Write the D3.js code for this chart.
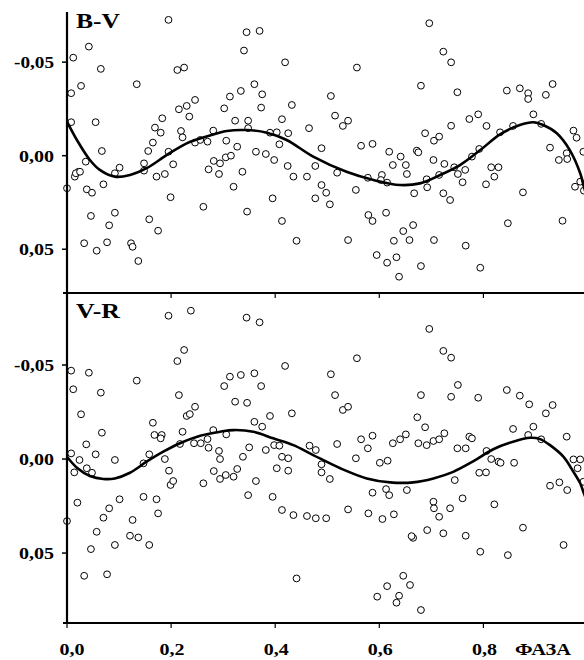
<!DOCTYPE html>
<html>
<head>
<meta charset="UTF-8">
<script src="https://d3js.org/d3.v7.min.js"></script>
<style>
  body { margin: 0; background: #fff; }
  svg text { font-family: "Liberation Serif", "Times New Roman", serif; font-weight: bold; fill: #000; }
</style>
</head>
<body>
<div id="chart"></div>
<script>
// phase, value  (B-V panel)
const bvPoints = [
  [0.000,0.0174],[0.008,-0.0334],[0.012,-0.0524],[0.008,-0.0179],[0.015,0.0112],[0.022,0.0086],[0.017,0.0094],[0.025,0.0086],
  [0.027,-0.0373],[0.033,0.0468],[0.036,0.0032],[0.038,0.0180],[0.042,-0.0583],[0.048,0.0198],[0.046,0.0322],[0.055,-0.0179],
  [0.057,0.0508],[0.065,-0.0464],[0.067,-0.0025],[0.070,0.0153],[0.077,0.0463],[0.081,0.0372],[0.092,0.0305],[0.092,0.0094],
  [0.101,0.0064],[0.123,0.0468],[0.126,0.0487],[0.134,-0.0382],[0.137,0.0563],[0.148,0.0041],[0.148,0.0080],[0.156,-0.0025],
  [0.158,0.0340],[0.165,-0.0070],[0.169,-0.0150],[0.172,0.0112],[0.175,0.0401],[0.180,-0.0123],[0.183,-0.0200],[0.188,0.0098],
  [0.195,-0.0726],[0.195,-0.0021],[0.199,0.0222],[0.204,0.0046],[0.212,-0.0458],[0.215,-0.0248],[0.219,-0.0132],[0.222,-0.0098],
  [0.225,-0.0471],[0.230,-0.0266],[0.235,-0.0209],[0.246,-0.0298],[0.246,-0.0070],[0.256,-0.0084],[0.262,0.0273],[0.270,-0.0075],
  [0.272,0.0073],[0.281,-0.0134],[0.282,0.0028],[0.292,0.0098],[0.294,0.0041],[0.302,-0.0253],[0.306,-0.0080],[0.305,0.0009],
  [0.313,-0.0316],[0.315,0.0000],[0.320,0.0166],[0.323,-0.0187],[0.327,-0.0048],[0.337,0.0086],[0.340,-0.0562],[0.334,-0.0346],
  [0.345,-0.0660],[0.346,0.0299],[0.348,-0.0187],[0.348,-0.0147],[0.360,-0.0382],[0.363,-0.0021],[0.370,-0.0667],[0.373,-0.0257],
  [0.375,-0.0328],[0.382,-0.0009],[0.390,-0.0123],[0.395,0.0228],[0.398,0.0023],[0.403,-0.0125],[0.408,-0.0061],[0.413,-0.0195],
  [0.413,0.0349],[0.419,-0.0499],[0.424,0.0055],[0.425,-0.0120],[0.432,-0.0271],[0.435,0.0112],[0.441,0.0455],
  [0.461,0.0112],[0.465,-0.0147],[0.477,0.0055],[0.477,0.0228],[0.489,-0.0040],[0.489,0.0157],[0.498,0.0198],[0.505,0.0260],
  [0.507,-0.0319],[0.515,-0.0214],[0.519,0.0091],[0.530,-0.0159],[0.540,-0.0187],[0.540,0.0451],[0.555,0.0183],[0.557,-0.0471],
  [0.565,-0.0053],[0.578,0.0118],[0.579,0.0317],[0.587,-0.0063],[0.587,0.0349],[0.595,0.0531],[0.605,0.0103],[0.603,0.0130],
  [0.613,0.0305],[0.615,0.0572],[0.615,0.0144],[0.619,-0.0021],[0.626,0.0050],[0.628,0.0455],[0.633,0.0543],[0.638,0.0647],
  [0.641,0.0005],[0.646,0.0403],[0.651,0.0050],[0.653,0.0098],[0.658,0.0451],[0.665,0.0371],[0.667,0.0201],[0.672,-0.0027],
  [0.675,-0.0018],[0.680,-0.0374],[0.680,0.0590],[0.688,-0.0120],[0.691,0.0126],[0.692,0.0169],[0.696,-0.0708],[0.705,-0.0080],
  [0.704,0.0023],[0.705,0.0451],[0.715,-0.0102],[0.715,0.0103],[0.723,-0.0556],[0.723,0.0201],[0.725,0.0044],[0.736,0.0237],
  [0.738,-0.0499],[0.738,-0.0160],[0.744,0.0062],[0.750,-0.0339],[0.751,0.0098],[0.760,0.0142],[0.765,0.0076],[0.766,0.0481],
  [0.773,-0.0196],[0.778,0.0005],[0.790,-0.0221],[0.792,-0.0036],[0.794,0.0599],[0.805,0.0153],[0.806,-0.0159],[0.815,0.0062],
  [0.821,0.0112],[0.829,0.0062],[0.832,-0.0125],[0.845,-0.0348],[0.847,0.0361],[0.857,-0.0159],[0.870,-0.0360],[0.876,0.0196],
  [0.886,-0.0334],[0.886,-0.0303],[0.896,-0.0221],[0.911,-0.0170],[0.920,-0.0325],[0.928,-0.0043],[0.933,-0.0383],[0.945,0.0023],
  [0.952,0.0348],[0.960,-0.0013],[0.961,0.0018],[0.973,-0.0134],[0.979,-0.0096],[0.976,0.0166],[0.986,0.0139],[0.992,-0.0021],
  [0.993,0.0187]
];

// fitted curve, B-V
const bvFit = [
  [0.000,-0.0182],[0.019,-0.0084],[0.044,0.0023],[0.063,0.0076],[0.092,0.0112],[0.121,0.0103],[0.153,0.0067],[0.192,-0.0004],
  [0.230,-0.0066],[0.268,-0.0102],[0.307,-0.0132],[0.345,-0.0137],[0.384,-0.0123],[0.422,-0.0084],[0.473,0.0005],[0.537,0.0086],
  [0.589,0.0130],[0.640,0.0157],[0.678,0.0148],[0.717,0.0103],[0.755,0.0050],[0.794,-0.0030],[0.832,-0.0114],[0.870,-0.0164],
  [0.896,-0.0179],[0.915,-0.0164],[0.941,-0.0120],[0.966,-0.0030],[0.986,0.0094],[0.993,0.0166],[1.000,0.0230]
];

// phase, value  (V-R panel)
const vrPoints = [
  [0.000,0.0330],[0.008,-0.0470],[0.008,-0.0030],[0.012,-0.0371],[0.014,0.0071],[0.020,0.0232],[0.024,0.0005],[0.027,-0.0238],
  [0.033,0.0621],[0.037,-0.0078],[0.038,0.0049],[0.042,-0.0459],[0.046,0.0479],[0.048,0.0073],[0.055,-0.0025],[0.057,0.0387],
  [0.065,-0.0353],[0.067,-0.0140],[0.070,0.0312],[0.077,0.0613],[0.081,0.0262],[0.092,0.0005],[0.092,0.0457],[0.101,0.0214],
  [0.126,0.0324],[0.121,0.0408],[0.134,-0.0417],[0.137,0.0417],[0.147,0.0023],[0.147,0.0201],[0.158,-0.0025],[0.158,0.0457],
  [0.165,-0.0193],[0.168,-0.0128],[0.172,0.0214],[0.175,0.0289],[0.182,-0.0128],[0.180,-0.0110],[0.188,0.0000],[0.195,-0.0762],
  [0.196,0.0062],[0.199,0.0138],[0.204,0.0117],[0.212,-0.0521],[0.215,-0.0340],[0.217,-0.0080],[0.222,-0.0145],[0.225,-0.0580],
  [0.230,-0.0229],[0.236,-0.0239],[0.238,-0.0789],[0.246,-0.0278],[0.244,-0.0084],[0.257,-0.0084],[0.262,0.0129],[0.270,-0.0106],
  [0.272,-0.0060],[0.281,-0.0154],[0.282,0.0064],[0.292,-0.0043],[0.294,0.0000],[0.294,0.0106],[0.302,-0.0388],[0.306,-0.0131],
  [0.305,0.0085],[0.313,-0.0438],[0.320,0.0094],[0.323,-0.0305],[0.327,0.0053],[0.334,-0.0447],[0.338,-0.0012],[0.345,-0.0752],
  [0.346,-0.0299],[0.348,0.0192],[0.350,-0.0062],[0.360,-0.0456],[0.360,-0.0198],[0.363,0.0117],[0.370,-0.0727],[0.373,-0.0388],
  [0.375,-0.0172],[0.382,-0.0048],[0.390,-0.0229],[0.395,0.0201],[0.398,-0.0074],[0.403,0.0049],[0.408,-0.0071],[0.413,-0.0012],
  [0.413,0.0271],[0.419,-0.0495],[0.425,-0.0004],[0.425,0.0062],[0.432,-0.0243],[0.435,0.0298],[0.441,0.0635],
  [0.461,0.0303],[0.466,-0.0071],[0.478,-0.0048],[0.478,0.0315],[0.489,0.0028],[0.489,0.0071],[0.498,0.0315],[0.505,0.0106],
  [0.507,-0.0451],[0.515,-0.0340],[0.519,-0.0080],[0.530,-0.0261],[0.540,-0.0278],[0.540,0.0268],[0.555,-0.0004],[0.557,-0.0536],
  [0.565,-0.0105],[0.578,-0.0057],[0.579,0.0289],[0.587,-0.0124],[0.587,0.0179],[0.601,0.0020],[0.606,0.0319],[0.613,0.0160],
  [0.616,0.0009],[0.619,0.0192],[0.626,-0.0084],[0.628,0.0294],[0.640,-0.0105],[0.646,0.0621],[0.651,-0.0131],[0.653,0.0165],
  [0.665,0.0419],[0.662,0.0410],[0.673,-0.0222],[0.675,-0.0084],[0.680,-0.0340],[0.688,-0.0169],[0.691,-0.0074],[0.692,0.0378],
  [0.696,-0.0692],[0.704,-0.0096],[0.704,0.0227],[0.705,0.0262],[0.715,-0.0105],[0.715,0.0307],[0.723,-0.0575],[0.723,0.0395],
  [0.725,-0.0137],[0.736,0.0262],[0.738,-0.0539],[0.738,-0.0331],[0.745,0.0112],[0.750,-0.0057],[0.751,-0.0394],[0.760,0.0209],
  [0.766,-0.0057],[0.766,0.0408],[0.773,-0.0119],[0.778,-0.0110],[0.790,-0.0326],[0.792,0.0073],[0.794,0.0493],[0.805,0.0071],
  [0.806,-0.0043],[0.815,0.0000],[0.821,0.0241],[0.829,0.0014],[0.833,0.0020],[0.845,-0.0367],[0.847,0.0511],[0.857,-0.0160],
  [0.859,0.0020],[0.870,-0.0337],[0.876,0.0365],[0.886,-0.0128],[0.888,-0.0291],[0.896,-0.0172],[0.911,-0.0105],[0.920,-0.0243],
  [0.928,0.0142],[0.933,-0.0287],[0.946,0.0124],[0.954,0.0457],[0.960,-0.0119],[0.961,0.0165],[0.973,0.0002],[0.981,0.0049],
  [0.986,0.0002],[0.992,0.0121],
  [0.659,0.0670],[0.615,0.0676],[0.596,0.0732],[0.638,0.0727],[0.633,0.0764],[0.680,0.0803]
];

// fitted curve, V-R
const vrFit = [
  [0.000,-0.0012],[0.019,0.0046],[0.044,0.0090],[0.070,0.0106],[0.092,0.0103],[0.121,0.0073],[0.153,0.0014],[0.185,-0.0039],
  [0.217,-0.0084],[0.256,-0.0124],[0.294,-0.0145],[0.320,-0.0154],[0.358,-0.0145],[0.396,-0.0110],[0.435,-0.0074],[0.473,-0.0021],
  [0.525,0.0049],[0.576,0.0103],[0.621,0.0124],[0.665,0.0124],[0.704,0.0103],[0.742,0.0068],[0.781,0.0011],[0.819,-0.0052],
  [0.857,-0.0092],[0.890,-0.0113],[0.909,-0.0106],[0.928,-0.0074],[0.954,-0.0012],[0.973,0.0068],[0.986,0.0129],[0.993,0.0182],
  [1.000,0.0230]
];

const xTicks = [0, 0.2, 0.4, 0.6, 0.8];
const xTickLabels = ["0,0", "0,2", "0,4", "0,6", "0,8"];
const yTicks = [-0.05, 0, 0.05];
const yTickLabels = ["-0,05", "0,00", "0,05"];

const W = 584, H = 660;
const svg = d3.select("#chart").append("svg").attr("width", W).attr("height", H);

const x = d3.scaleLinear().domain([0, 1]).range([67, 587.5]);
const panels = [
  { name: "B-V", pts: bvPoints, fit: bvFit, y: d3.scaleLinear().domain([-0.0768, 0.0734]).range([12, 293]), lab: 28 },
  { name: "V-R", pts: vrPoints, fit: vrFit, y: d3.scaleLinear().domain([-0.0883, 0.0872]).range([293, 623]), lab: 318 }
];

panels.forEach(p => {
  const g = svg.append("g");
  const [y0, y1] = p.y.range();

  // points
  g.selectAll("circle").data(p.pts).enter().append("circle")
    .attr("cx", d => x(d[0])).attr("cy", d => p.y(d[1]))
    .attr("r", 3.4).attr("fill", "#fff").attr("stroke", "#000").attr("stroke-width", 1);

  // fitted curve
  const line = d3.line().x(d => x(d[0])).y(d => p.y(d[1])).curve(d3.curveCatmullRom.alpha(0.5));
  g.append("path").datum(p.fit).attr("d", line)
    .attr("fill", "none").attr("stroke", "#000").attr("stroke-width", 2.6);

  // y ticks + labels
  yTicks.forEach((t, i) => {
    g.append("line").attr("x1", 62).attr("x2", 67).attr("y1", p.y(t)).attr("y2", p.y(t))
      .attr("stroke", "#000").attr("stroke-width", 1.5);
    g.append("text").attr("x", 54).attr("y", p.y(t) + 6)
      .attr("text-anchor", "end").attr("font-size", 17)
      .attr("textLength", t < 0 ? 40 : 35).attr("lengthAdjust", "spacingAndGlyphs")
      .text(yTickLabels[i]);
  });

  // bottom line of the panel with ticks
  g.append("line").attr("x1", 63).attr("x2", W).attr("y1", y1).attr("y2", y1)
    .attr("stroke", "#000").attr("stroke-width", 2);
  xTicks.forEach(t => {
    g.append("line").attr("x1", x(t)).attr("x2", x(t)).attr("y1", y1).attr("y2", y1 + 5)
      .attr("stroke", "#000").attr("stroke-width", 1.2);
  });

  // panel name
  g.append("text").attr("x", 76).attr("y", p.lab).attr("font-size", 20)
    .attr("textLength", 44).attr("lengthAdjust", "spacingAndGlyphs").text(p.name);
});

// left axis
svg.append("line").attr("x1", 67).attr("x2", 67).attr("y1", 12).attr("y2", 624)
  .attr("stroke", "#000").attr("stroke-width", 2.2);

// x labels
xTicks.forEach((t, i) => {
  svg.append("text").attr("x", x(t) + (i === 0 ? 5 : 1)).attr("y", 655)
    .attr("text-anchor", "middle").attr("font-size", 17)
    .attr("textLength", 25).attr("lengthAdjust", "spacingAndGlyphs")
    .text(xTickLabels[i]);
});
svg.append("text").attr("x", 515).attr("y", 655).attr("font-size", 17)
  .attr("textLength", 56).attr("lengthAdjust", "spacingAndGlyphs").text("ФАЗА");
</script>
</body>
</html>
